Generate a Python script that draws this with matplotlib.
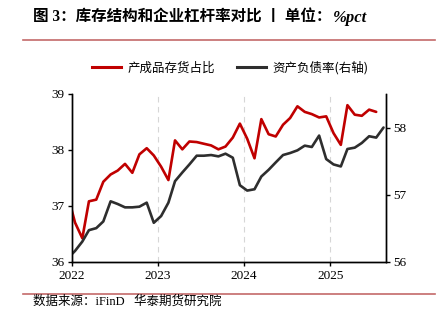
import numpy as np
import pandas as pd
import matplotlib
matplotlib.use("Agg")
import matplotlib.pyplot as plt
from matplotlib.lines import Line2D

plt.rcParams['font.family'] = ['Liberation Serif', 'Noto Sans CJK SC', 'DejaVu Sans']

# monthly data, Dec 2021 .. Aug 2025
months = pd.date_range("2021-12-01", "2025-08-01", freq="MS") + pd.Timedelta(days=14)

inv_share = [37.20, 36.70, 36.42, 37.08, 37.11, 37.43, 37.56, 37.63, 37.75, 37.59,
             37.92, 38.03, 37.90, 37.70, 37.46, 38.17, 38.01, 38.15, 38.14, 38.11,
             38.08, 38.01, 38.06, 38.22, 38.47, 38.20, 37.85, 38.55, 38.28, 38.24,
             38.45, 38.57, 38.78, 38.68, 38.64, 38.58, 38.60, 38.30, 38.09, 38.80,
             38.63, 38.61, 38.72, 38.68, np.nan]

debt_ratio = [56.05, 56.16, 56.30, 56.47, 56.50, 56.60, 56.90, 56.86, 56.81, 56.81,
              56.82, 56.88, 56.58, 56.68, 56.88, 57.20, 57.33, 57.45, 57.58, 57.58,
              57.59, 57.57, 57.61, 57.55, 57.14, 57.06, 57.08, 57.27, 57.37, 57.48,
              57.59, 57.62, 57.66, 57.73, 57.71, 57.88, 57.53, 57.45, 57.42, 57.68,
              57.70, 57.77, 57.87, 57.85, 58.00]

years = ["2022", "2023", "2024", "2025"]
red = "#c00000"
dark = "#2e2e2e"

fig = plt.figure(figsize=(4.41, 3.22), dpi=100)
ax = fig.add_axes([0.1626, 0.1873, 0.7124, 0.5208])
ax2 = ax.twinx()

ax.plot(months, inv_share, color=red, lw=1.9, solid_capstyle='round')
ax2.plot(months, debt_ratio, color=dark, lw=1.9, solid_capstyle='round')

ax.set_xlim(pd.Timestamp("2022-01-01"), pd.Timestamp("2025-08-25"))
ax.set_ylim(36, 39)
ax2.set_ylim(56, 58.5)
ax.set_yticks([36, 37, 38, 39])
ax2.set_yticks([56, 57, 58])

yr_ticks = [pd.Timestamp(y + "-01-01") for y in years]
ax.set_xticks(yr_ticks)
ax.set_xticklabels(years)
for t in yr_ticks[1:]:
    ax.axvline(t, color="#d6d6d6", lw=0.8, ls=(0, (5, 4)), zorder=0)

for a in (ax, ax2):
    a.spines['top'].set_visible(False)
    for s in a.spines.values():
        s.set_linewidth(1.0)
    a.tick_params(labelsize=9.5, length=3, width=1.0, direction='out', pad=2)
ax.tick_params(axis='x', pad=3)

# legend
h = [Line2D([], [], color=red, lw=2.2), Line2D([], [], color=dark, lw=2.2)]
fig.legend(h, ["产成品存货占比", "资产负债率(右轴)"], loc='center', ncol=2,
           bbox_to_anchor=(0.522, 0.789), frameon=False,
           prop={'family': ['Noto Sans CJK SC'], 'size': 9},
           handlelength=2.3, handletextpad=0.5, columnspacing=1.8)

# title + separators
t1 = fig.text(0.075, 0.944, "图 3：库存结构和企业杠杆率对比 丨 单位：", fontsize=11.2,
              fontweight='bold', family=['Liberation Serif', 'Noto Sans CJK SC'],
              va='center', ha='left')
fig.canvas.draw()
bb = t1.get_window_extent().transformed(fig.transFigure.inverted())
fig.text(bb.x1 + 0.004, 0.944, "%pct", fontsize=12, fontweight='bold', style='italic',
         family=['Liberation Serif'], va='center', ha='left')
fig.add_artist(Line2D([0.052, 0.987], [0.876, 0.876], transform=fig.transFigure,
                      color="#c46a6a", lw=1.2))
fig.add_artist(Line2D([0.052, 0.987], [0.087, 0.087], transform=fig.transFigure,
                      color="#c46a6a", lw=1.2))
fig.text(0.075, 0.062, "数据来源：iFinD   华泰期货研究院", fontsize=9,
         family=['Liberation Serif', 'Noto Sans CJK SC'], va='center', ha='left')

fig.savefig("out.png", dpi=100)
